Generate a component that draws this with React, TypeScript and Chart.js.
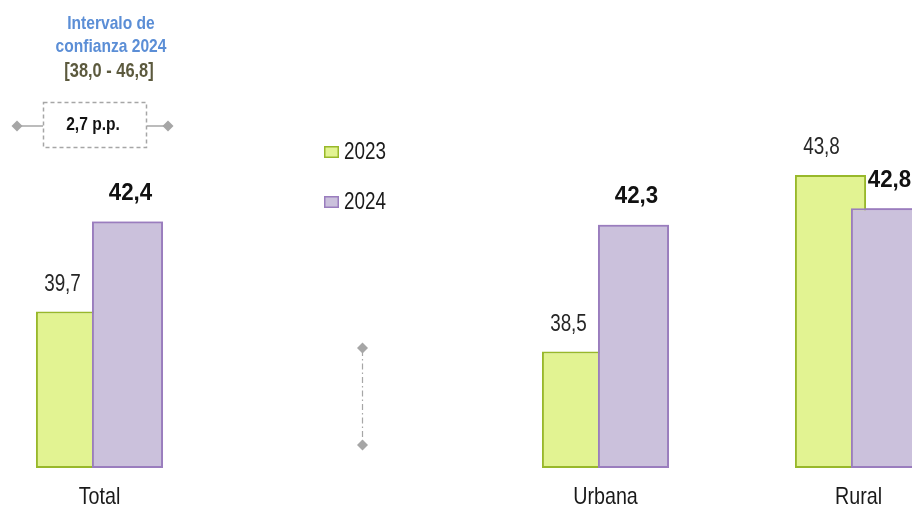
import React, { useEffect, useRef } from "react";
import { Chart, registerables } from "chart.js";

Chart.register(...registerables);

// ---- data ----
const categories = ["Total", "", "Urbana", "Rural"];
const seriesNames = ["2023", "2024"];
const values2023 = [39.7, null, 38.5, 43.8];
const values2024 = [42.4, null, 42.3, 42.8];
const yMin = 35;
const yMax = 48;
const ciTitle = ["Intervalo de", "confianza 2024"];
const ciRange = "[38,0 - 46,8]";
const ciDiff = "2,7 p.p.";

// ---- styles ----
const OX = 40; // canvas is shifted left by this amount
const SANS = '"Liberation Sans", Arial, sans-serif';
const NARROW_X = 0.82; // horizontal condensing to mimic Arial Narrow
const GREEN_FILL = "#E2F392";
const GREEN_LINE = "#98B82A";
const PURPLE_FILL = "#CBC1DC";
const PURPLE_LINE = "#9A7DBE";
const GREY = "#A6A6A6";

const fmt = (v: number) => v.toFixed(1).replace(".", ",");

function narrowText(
  ctx: CanvasRenderingContext2D,
  text: string,
  x: number,
  y: number,
  font: string,
  color: string,
  align: CanvasTextAlign = "center",
  sx: number = NARROW_X
) {
  ctx.save();
  ctx.font = font;
  ctx.fillStyle = color;
  ctx.textAlign = align;
  ctx.textBaseline = "middle";
  ctx.translate(x, y);
  ctx.scale(sx, 1);
  ctx.fillText(text, 0, 0);
  ctx.restore();
}

function diamond(ctx: CanvasRenderingContext2D, x: number, y: number, r: number) {
  ctx.beginPath();
  ctx.moveTo(x, y - r);
  ctx.lineTo(x + r, y);
  ctx.lineTo(x, y + r);
  ctx.lineTo(x - r, y);
  ctx.closePath();
  ctx.fill();
}

const overlayPlugin = {
  id: "overlay",
  afterDatasetsDraw(chart: any) {
    const ctx: CanvasRenderingContext2D = chart.ctx;
    // draw 2024 bars on top of 2023 bars
    const meta1 = chart.getDatasetMeta(1);
    ctx.save();
    meta1.data.forEach((el: any, i: number) => {
      if (chart.data.datasets[1].data[i] != null) el.draw(ctx);
    });
    ctx.restore();

    // value labels
    chart.data.datasets.forEach((ds: any, d: number) => {
      const meta = chart.getDatasetMeta(d);
      const dx = d === 0 ? -9 : 3;
      const dy = d === 0 ? 27 : 28;
      meta.data.forEach((el: any, i: number) => {
        const v = ds.data[i];
        if (v == null) return;
        if (d === 0) {
          narrowText(ctx, fmt(v), el.x + dx, el.y - dy, `23px ${SANS}`, "#262626");
        } else {
          narrowText(ctx, fmt(v), el.x + dx, el.y - dy, `bold 23px ${SANS}`, "#111111", "center", 0.97);
        }
      });
    });
  },
  afterDraw(chart: any) {
    const ctx: CanvasRenderingContext2D = chart.ctx;
    ctx.save();

    // category labels
    const xs = chart.scales.x;
    categories.forEach((c, i) => {
      if (!c) return;
      narrowText(ctx, c, xs.getPixelForValue(i), 497, `24px ${SANS}`, "#1a1a1a");
    });

    // legend
    const legendY = [152, 202];
    chart.data.datasets.forEach((ds: any, d: number) => {
      const y = legendY[d];
      ctx.fillStyle = ds.backgroundColor;
      ctx.fillRect(324 + OX, y - 6, 15, 12);
      ctx.strokeStyle = ds.borderColor;
      ctx.lineWidth = 1.5;
      ctx.strokeRect(324.75 + OX, y - 5.25, 13.5, 10.5);
      narrowText(ctx, ds.label, 344 + OX, y + 1, `23px ${SANS}`, "#1a1a1a", "left");
    });

    // confidence interval annotation
    narrowText(ctx, ciTitle[0], 111 + OX, 24, `bold 19px ${SANS}`, "#5B8ED6");
    narrowText(ctx, ciTitle[1], 111 + OX, 47, `bold 19px ${SANS}`, "#5B8ED6");
    narrowText(ctx, ciRange, 109 + OX, 71, `bold 20px ${SANS}`, "#5C5A3E");

    ctx.strokeStyle = GREY;
    ctx.fillStyle = GREY;
    ctx.lineWidth = 1.5;
    ctx.setLineDash([4, 3]);
    ctx.strokeRect(43.5 + OX, 102.5, 103, 45);
    ctx.setLineDash([]);
    ctx.beginPath();
    ctx.moveTo(17 + OX, 126);
    ctx.lineTo(43 + OX, 126);
    ctx.moveTo(147 + OX, 126);
    ctx.lineTo(168 + OX, 126);
    ctx.stroke();
    diamond(ctx, 17 + OX, 126, 5.5);
    diamond(ctx, 168 + OX, 126, 5.5);

    narrowText(ctx, ciDiff, 93 + OX, 125, `bold 19px ${SANS}`, "#111111");

    // vertical dash-dot marker
    ctx.strokeStyle = GREY;
    ctx.fillStyle = GREY;
    ctx.lineWidth = 1.2;
    ctx.setLineDash([6, 3, 1.5, 3]);
    ctx.beginPath();
    ctx.moveTo(362.5 + OX, 350);
    ctx.lineTo(362.5 + OX, 443);
    ctx.stroke();
    ctx.setLineDash([]);
    diamond(ctx, 362.5 + OX, 348, 5.5);
    diamond(ctx, 362.5 + OX, 445, 5.5);

    ctx.restore();
  },
};

export default function App() {
  const ref = useRef<HTMLCanvasElement | null>(null);

  useEffect(() => {
    if (!ref.current) return;
    const chart = new Chart(ref.current, {
      type: "bar",
      data: {
        labels: categories,
        datasets: [
          {
            label: seriesNames[0],
            data: values2023 as any,
            backgroundColor: GREEN_FILL,
            borderColor: GREEN_LINE,
            borderWidth: 2,
            borderSkipped: false,
            base: yMin,
            clip: false as any,
          },
          {
            label: seriesNames[1],
            data: values2024 as any,
            backgroundColor: PURPLE_FILL,
            borderColor: PURPLE_LINE,
            borderWidth: 2,
            borderSkipped: false,
            base: yMin,
            clip: false as any,
          },
        ],
      },
      options: {
        responsive: false,
        animation: false,
        devicePixelRatio: 1,
        categoryPercentage: 0.4427,
        barPercentage: 1.27,
        layout: { padding: { left: 13, right: 15, top: 35, bottom: 41 } },
        plugins: {
          legend: { display: false },
          tooltip: { enabled: false },
        },
        scales: {
          x: { display: false },
          y: { display: false, min: yMin, max: yMax },
        },
      } as any,
      plugins: [overlayPlugin],
    });
    return () => chart.destroy();
  }, []);

  return (
    <div
      style={{
        position: "fixed",
        left: 0,
        top: 0,
        width: 912,
        height: 509,
        overflow: "hidden",
        background: "#ffffff",
      }}
    >
      <canvas
        ref={ref}
        width={1040}
        height={509}
        style={{ position: "absolute", left: -OX, top: 0 }}
      />
    </div>
  );
}
